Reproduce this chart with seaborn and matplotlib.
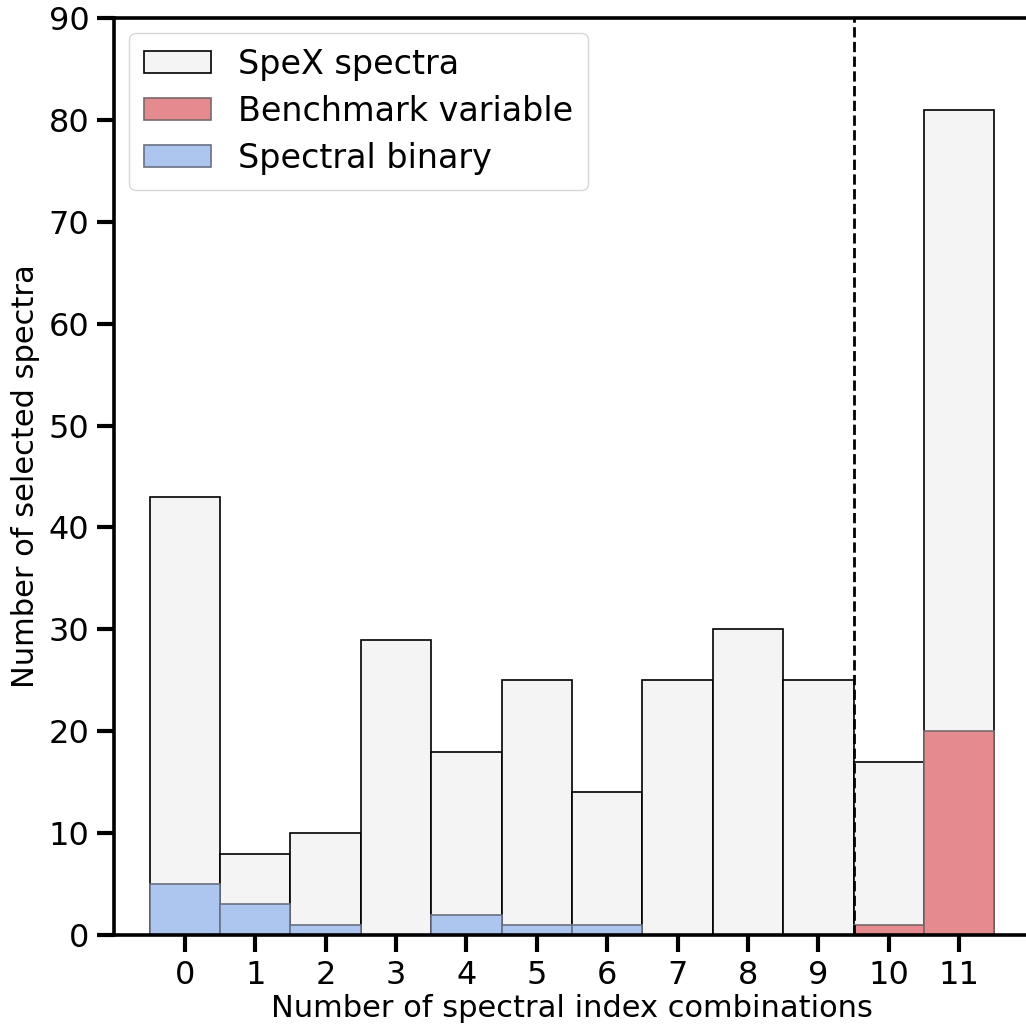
import matplotlib
matplotlib.use("Agg")
import matplotlib.pyplot as plt
import numpy as np
import pandas as pd
import seaborn as sb

# number of spectral index combinations
combos = np.arange(12)
n_spex = [43, 8, 10, 29, 18, 25, 14, 25, 30, 25, 17, 81]

binary_x = [0, 1, 2, 4, 5, 6]
n_binary = [5, 3, 1, 2, 1, 1]

bench_x = [10, 11]
n_bench = [1, 20]

sb.set_style("ticks", {"axes.edgecolor": "black", "text.color": "black",
                       "xtick.color": "black", "ytick.color": "black",
                       "axes.labelcolor": "black"})
plt.rcParams["font.family"] = ["DejaVu Sans"]

fig = plt.figure(figsize=(10.26, 10.24), dpi=100)
ax = fig.add_axes([0.1115, 0.0869, 0.892, 0.8955])

df_all = pd.DataFrame({"x": combos, "n": n_spex})
df_bin = pd.DataFrame({"x": binary_x, "n": n_binary})
df_ben = pd.DataFrame({"x": bench_x, "n": n_bench})

sb.barplot(data=df_all, x="x", y="n", native_scale=True, width=1, color="#f4f4f4",
           edgecolor="black", linewidth=1.2, saturation=1, label="SpeX spectra", ax=ax)
sb.barplot(data=df_ben, x="x", y="n", native_scale=True, width=1, color="#e58b8f",
           edgecolor="#7a6a6a", linewidth=1.2, saturation=1, label="Benchmark variable", ax=ax)
sb.barplot(data=df_bin, x="x", y="n", native_scale=True, width=1, color="#adc6f0",
           edgecolor="#6a7080", linewidth=1.2, saturation=1, label="Spectral binary", ax=ax)

ax.axvline(9.5, color="black", ls="--", lw=2)

ax.set_xlim(-1, 12)
ax.set_ylim(0, 90)
ax.set_xticks(combos)
ax.set_yticks(np.arange(0, 91, 10))
ax.tick_params(axis="both", labelsize=23, length=12, width=3, pad=6)
for s in ax.spines.values():
    s.set_linewidth(2.6)
ax.spines["right"].set_visible(False)

ax.set_xlabel("Number of spectral index combinations", fontsize=22, labelpad=2)
ax.set_ylabel("Number of selected spectra", fontsize=22, labelpad=6)

leg = ax.legend(loc="upper left", fontsize=24, frameon=True, handlelength=2.0,
                handleheight=0.65, borderpad=0.45, labelspacing=0.42, handletextpad=0.8,
                borderaxespad=0.45)

plt.savefig("out.png", dpi=100)
